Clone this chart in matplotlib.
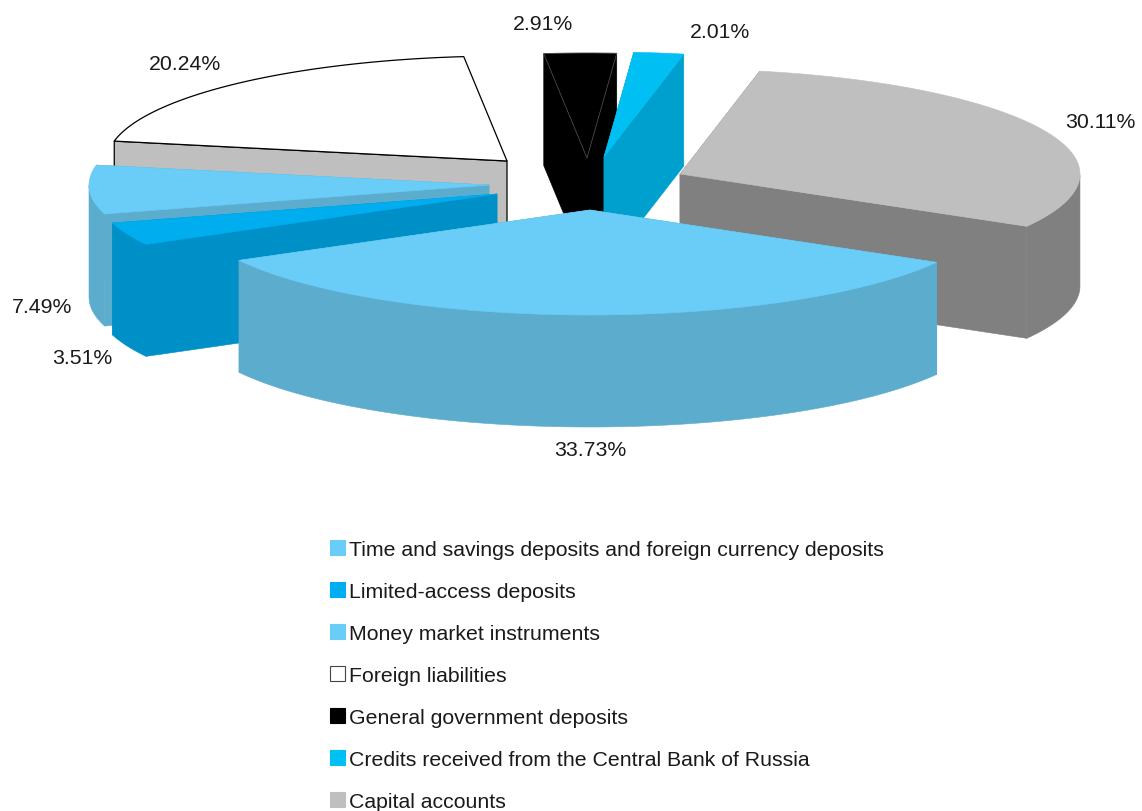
import numpy as np
import matplotlib
matplotlib.use('Agg')
import matplotlib.pyplot as plt
from matplotlib.patches import Polygon, Patch

# datos de la grafica, en el orden de la leyenda
categorias = ['Time and savings deposits and foreign currency deposits',
              'Limited-access deposits',
              'Money market instruments',
              'Foreign liabilities',
              'General government deposits',
              'Credits received from the Central Bank of Russia',
              'Capital accounts']
valores = [33.73, 3.51, 7.49, 20.24, 2.91, 2.01, 30.11]

# estilo de cada rebanada
color_top = ['#69CDF8', '#00ADEF', '#69CDF8', '#FFFFFF', '#000000', '#00BFF3', '#BFBFBF']
color_lado = ['#5BACCD', '#0090C8', '#5BACCD', '#BFBFBF', '#000000', '#00A0CE', '#808080']
centros = [(590, 211), (497, 195), (489, 186), (507, 162), (587, 159), (604, 158), (680, 175)]
pos_texto = [(590, 451), (82, 359), (42, 308), (185, 65), (543, 25), (720, 33), (1100, 123)]
orden_dibujo = [3, 4, 5, 6, 2, 1, 0]

rx = 400
ry = 105
alto = 112
inicio = -29.9

plt.rcParams['font.family'] = ['Liberation Sans', 'DejaVu Sans']
fig = plt.figure(figsize=(11.42, 8.12), dpi=100)
ax = fig.add_axes([0, 0, 1, 1])
ax.set_xlim(0, 1142)
ax.set_ylim(812, 0)
ax.axis('off')

# angulos de cada rebanada, en sentido horario
barrido = np.array(valores) / sum(valores) * 360
fin = inicio - np.cumsum(barrido)
ini = fin + barrido


def borde(c, a, b):
    t = np.radians(np.linspace(a, b, 120))
    return np.column_stack([c[0] + rx * np.cos(t), c[1] - ry * np.sin(t)])


def cara(puntos, color, borde_color=None, lw=0.4):
    ax.add_patch(Polygon(puntos, closed=True, facecolor=color,
                         edgecolor=borde_color or color, linewidth=lw, joinstyle='round'))


for i in orden_dibujo:
    c = np.array(centros[i], dtype=float)
    arco = borde(c, ini[i], fin[i])
    abajo = np.array([0, alto])
    linea = 'black' if i == 3 else None
    # caras rectas (la de atras de foreign liabilities no se ve)
    extremos = (arco[0],) if i == 3 else (arco[0], arco[-1])
    for p in extremos:
        cara([c, p, p + abajo, c + abajo], color_lado[i], linea, 0.9 if i == 3 else 0.4)
    # pared exterior, solo la parte que mira al frente
    frente = np.sin(np.radians(np.linspace(ini[i], fin[i], 120))) <= 0
    if frente.any() and i != 3:
        a = arco[frente]
        cara(np.vstack([a, (a + abajo)[::-1]]), color_lado[i])
    # tapa
    tapa = np.vstack([[c], arco])
    if i == 3:
        cara(tapa, color_top[i], 'black', 0.9)
    elif i == 4:
        cara(tapa, color_top[i], '#444444', 0.6)
    else:
        cara(tapa, color_top[i])

for i in range(len(valores)):
    ax.text(pos_texto[i][0], pos_texto[i][1], '%.2f%%' % valores[i], fontsize=15.3,
            ha='center', va='center', color='#1a1a1a')

cajas = [Patch(facecolor=color_top[i], edgecolor='#444444' if i == 3 else color_top[i], linewidth=0.8)
         for i in range(len(valores))]
ax.legend(cajas, categorias, loc='upper left', bbox_to_anchor=(330, 541),
          bbox_transform=ax.transData, frameon=False, fontsize=15.3,
          handlelength=0.71, handleheight=0.71, handletextpad=0.19,
          labelspacing=1.08, borderpad=0, borderaxespad=0, labelcolor='#1a1a1a')

fig.savefig('out.png', dpi=100)
